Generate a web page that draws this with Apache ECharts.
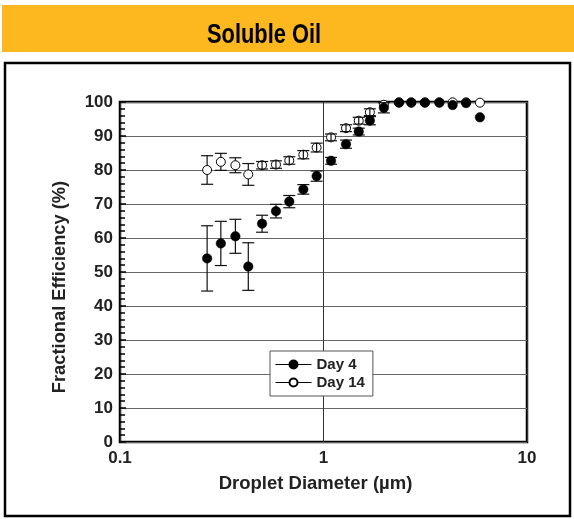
<!DOCTYPE html>
<html><head><meta charset="utf-8">
<script src="https://cdn.jsdelivr.net/npm/echarts@6/dist/echarts.min.js"></script>
<style>html,body{margin:0;padding:0;background:#fff}#c{width:574px;height:519px}</style>
</head><body><div id="c"></div>
<script>
// Droplet diameter (µm)
const diameters = [0.268, 0.313, 0.369, 0.427, 0.499, 0.584, 0.679, 0.796, 0.925, 1.089, 1.29, 1.49, 1.69, 1.98, 2.35, 2.70, 3.15, 3.71, 4.31, 5.02, 5.87];
// Fractional efficiency (%)
const day4 = [54.0, 58.4, 60.5, 51.6, 64.2, 67.9, 70.7, 74.3, 78.2, 82.7, 87.6, 91.3, 94.5, 98.3, 99.8, 99.8, 99.8, 99.8, 99.1, 99.7, 95.5];
const day4Err = [9.6, 6.5, 5.0, 7.0, 2.5, 2.0, 1.8, 1.4, 1.5, 1.0, 1.2, 1.0, 1.2, 1.5, 0, 0, 0, 0, 0, 0, 0];
const day14 = [80.0, 82.4, 81.4, 78.7, 81.4, 81.6, 82.8, 84.5, 86.6, 89.6, 92.3, 94.5, 97.0, 99.2, 99.9, 99.9, 99.9, 99.9, 99.9, 99.9, 99.8];
const day14Err = [4.2, 2.5, 2.2, 3.2, 1.1, 1.1, 1.1, 1.2, 1.3, 1.0, 1.0, 1.0, 1.0, 0, 0, 0, 0, 0, 0, 0, 0];
const xTicks = ['0.1', '1', '10'];
const yTicks = [0, 10, 20, 30, 40, 50, 60, 70, 80, 90, 100];

const R = 4.5;
function errSeries(vals, errs, name, openMarker, z) {
  return {
    type: 'custom', name: name + ' err', z: z, silent: true,
    data: diameters.map((d, i) => [d, vals[i], errs[i]]),
    renderItem: function (params, api) {
      const x = api.value(0), y = api.value(1), e = api.value(2);
      if (!e) return null;
      const c = api.coord([x, y]);
      const hi = api.coord([x, y + e]);
      const lo = api.coord([x, y - e]);
      const w = 6;
      const st = { stroke: '#111', lineWidth: 1.2 };
      const kids = [
        { type: 'line', shape: { x1: c[0] - w, y1: hi[1], x2: c[0] + w, y2: hi[1] }, style: st },
        { type: 'line', shape: { x1: c[0] - w, y1: lo[1], x2: c[0] + w, y2: lo[1] }, style: st }
      ];
      const half = lo[1] - c[1];
      if (openMarker && half > R + 1.5) {
        kids.push({ type: 'line', shape: { x1: c[0], y1: hi[1], x2: c[0], y2: c[1] - R }, style: st });
        kids.push({ type: 'line', shape: { x1: c[0], y1: c[1] + R, x2: c[0], y2: lo[1] }, style: st });
      } else {
        kids.push({ type: 'line', shape: { x1: c[0], y1: hi[1], x2: c[0], y2: lo[1] }, style: st });
      }
      return { type: 'group', children: kids };
    }
  };
}

const chart = echarts.init(document.getElementById('c'), null, { renderer: 'canvas' });
const boldFont = 'Liberation Sans';
chart.setOption({
  animation: false,
  backgroundColor: '#fff',
  graphic: [
    { type: 'rect', left: 2, top: 5, shape: { width: 572, height: 47 }, style: { fill: '#FDB71F' }, z: -1 },
    { type: 'rect', shape: { x: 5, y: 63, width: 565, height: 453 }, style: { fill: 'none', stroke: '#000', lineWidth: 2.5 }, z: -1 },
    {
      type: 'text', x: 264, y: 35, scaleX: 0.78, z: 10,
      style: { text: 'Soluble Oil', fontFamily: 'Liberation Sans', fontWeight: 'bold', fontSize: 28, fill: '#000', align: 'center', verticalAlign: 'middle' }
    }
  ],
  grid: { left: 120, right: 47, top: 102, bottom: 77, show: true, borderColor: '#000', borderWidth: 2.5, backgroundColor: 'transparent' },
  legend: {
    left: 270, top: 351, orient: 'vertical', itemWidth: 36, itemHeight: 10, itemGap: 3,
    padding: [6, 8, 6, 5],
    backgroundColor: '#fff', borderColor: '#555', borderWidth: 1,
    data: ['Day 4', 'Day 14'],
    lineStyle: { color: '#000', width: 1, opacity: 1 },
    textStyle: { fontFamily: boldFont, fontWeight: 'bold', fontSize: 15, color: '#222' }
  },
  xAxis: {
    type: 'log', logBase: 10, min: 0.1, max: 10,
    name: 'Droplet Diameter (µm)', nameLocation: 'middle', nameGap: 32,
    nameTextStyle: { fontFamily: boldFont, fontWeight: 'bold', fontSize: 18.5, color: '#222', padding: [0, 16, 0, 0] },
    axisLine: { show: false },
    axisTick: { show: false },
    splitLine: { show: true, lineStyle: { color: '#333', width: 1 } },
    axisLabel: {
      margin: 8, fontFamily: boldFont, fontWeight: 'bold', fontSize: 17, color: '#222',
      formatter: v => { const s = xTicks.find(t => Math.abs(parseFloat(t) - v) < 1e-9); return s || ''; }
    }
  },
  yAxis: {
    type: 'value', min: 0, max: 100, interval: 10,
    name: 'Fractional Efficiency (%)', nameLocation: 'middle', nameGap: 51,
    nameTextStyle: { fontFamily: boldFont, fontWeight: 'bold', fontSize: 18.3, color: '#222', padding: [0, 30, 0, 0] },
    axisLine: { show: false },
    axisTick: { show: true, inside: true, length: 6, lineStyle: { color: '#000', width: 1.5 } },
    minorTick: { show: true, splitNumber: 5, length: 5, lineStyle: { color: '#000', width: 1.5 } },
    splitLine: { show: true, lineStyle: { color: '#666', width: 1 } },
    axisLabel: {
      margin: 7, fontFamily: boldFont, fontWeight: 'bold', fontSize: 17, color: '#222',
      formatter: v => yTicks.includes(v) ? String(v) : ''
    }
  },
  series: [
    {
      name: 'Day 14', type: 'line', z: 3,
      data: diameters.map((d, i) => [d, day14[i]]),
      symbol: 'circle', symbolSize: 9, showSymbol: true,
      lineStyle: { width: 0, opacity: 0 },
      itemStyle: { color: '#fff', borderColor: '#000', borderWidth: 1 }
    },
    errSeries(day14, day14Err, 'Day 14', true, 4),
    errSeries(day4, day4Err, 'Day 4', false, 5),
    {
      name: 'Day 4', type: 'line', z: 6,
      data: diameters.map((d, i) => [d, day4[i]]),
      symbol: 'circle', symbolSize: 9.5, showSymbol: true,
      lineStyle: { width: 0, opacity: 0 },
      itemStyle: { color: '#000', borderColor: '#000', borderWidth: 0.5 }
    }
  ]
});
</script></body></html>
